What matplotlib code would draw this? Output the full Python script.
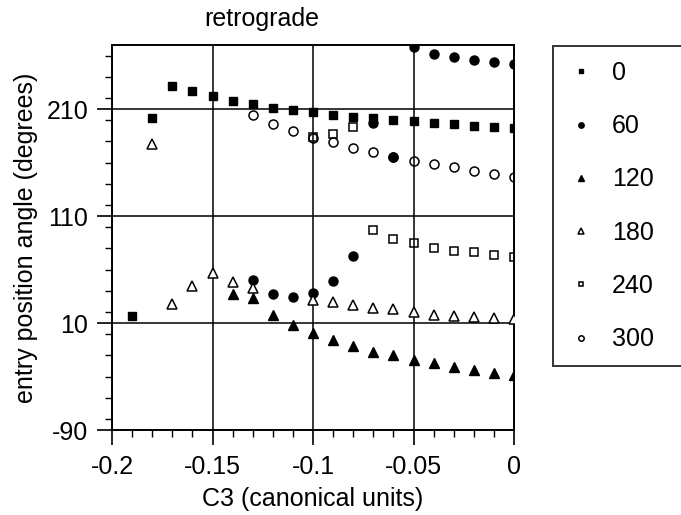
import numpy as np
import matplotlib.pyplot as plt
from matplotlib.ticker import MultipleLocator

plt.rcParams['font.family'] = ['Liberation Sans', 'DejaVu Sans']
plt.rcParams['axes.unicode_minus'] = False

# C3 values (canonical units) and entry position angles (deg) per launch angle
x_0 = [-0.19, -0.18, -0.17, -0.16, -0.15, -0.14, -0.13, -0.12, -0.11, -0.10,
       -0.09, -0.08, -0.07, -0.06, -0.05, -0.04, -0.03, -0.02, -0.01, 0.0]
y_0 = [17, 202, 232, 227, 222, 218, 214.5, 211.5, 209, 207,
       204.5, 203, 201.5, 200, 198.5, 197, 196, 194, 193, 192]

x_60 = [-0.13, -0.12, -0.11, -0.10, -0.09, -0.08, -0.07, -0.06,
        -0.05, -0.04, -0.03, -0.02, -0.01, 0.0]
y_60 = [50, 37, 34.5, 38.5, 49, 73, 197, 165.5,
        268.5, 262, 258.5, 256, 254, 252]

x_120 = [-0.14, -0.13, -0.12, -0.11, -0.10, -0.09, -0.08, -0.07,
         -0.06, -0.05, -0.04, -0.03, -0.02, -0.01, 0.0]
y_120 = [37, 33, 18, 8, 0.5, -6, -11, -17,
         -20, -24.5, -27.5, -31, -34, -36.5, -38.5]

x_180 = [-0.18, -0.17, -0.16, -0.15, -0.14, -0.13, -0.10, -0.09,
         -0.08, -0.07, -0.06, -0.05, -0.04, -0.03, -0.02, -0.01, 0.0]
y_180 = [177, 28, 45, 56.5, 48.5, 42.5, 31.5, 30,
         27, 24.5, 23, 20.5, 17.5, 16.5, 16, 15, 13.5]

x_240 = [-0.10, -0.09, -0.08, -0.07, -0.06, -0.05, -0.04, -0.03,
         -0.02, -0.01, 0.0]
y_240 = [184, 187, 193, 97, 88.5, 84.5, 80, 77.5,
         76, 74, 71.5]

x_300 = [-0.13, -0.12, -0.11, -0.10, -0.09, -0.08, -0.07, -0.06,
         -0.05, -0.04, -0.03, -0.02, -0.01, 0.0]
y_300 = [204.5, 196.5, 190, 183, 179, 174, 169.5, 165.5,
         162, 158.5, 155.5, 152, 149.5, 147]

fs = 18

fig = plt.figure(figsize=(6.81, 5.15), dpi=100)
ax = fig.add_axes([112/681, 1 - 430/515, 402/681, 385/515])

ax.plot(x_0, y_0, 's', color='k', ms=6, label='0', zorder=3)
ax.plot(x_60, y_60, 'o', color='k', ms=6.5, label='60', zorder=3)
ax.plot(x_120, y_120, '^', color='k', ms=6.5, label='120', zorder=3)
ax.plot(x_180, y_180, '^', mfc='white', mec='k', mew=1.1, ms=6.5, label='180', zorder=3)
ax.plot(x_240, y_240, 's', mfc='none', mec='k', mew=1.1, ms=6, label='240', zorder=3)
ax.plot(x_300, y_300, 'o', mfc='none', mec='k', mew=1.1, ms=6.5, label='300', zorder=3)

ax.set_xlim(-0.2, 0)
ax.set_ylim(-90, 270)
ax.set_xticks([-0.2, -0.15, -0.1, -0.05, 0])
ax.set_xticklabels(['-0.2', '-0.15', '-0.1', '-0.05', '0'])
ax.set_yticks([-90, 10, 110, 210])
ax.xaxis.set_minor_locator(MultipleLocator(0.01))
ax.yaxis.set_minor_locator(MultipleLocator(20))
ax.tick_params(which='major', direction='out', length=11, width=1.2, labelsize=fs)
ax.tick_params(axis='y', which='major', pad=6)
ax.tick_params(axis='x', which='major', pad=7)
ax.tick_params(which='minor', direction='out', length=5, width=1)
ax.grid(True, which='major', color='k', lw=1.1)
ax.set_axisbelow(True)
for s in ax.spines.values():
    s.set_linewidth(1.4)

ax.set_xlabel('C3 (canonical units)', fontsize=fs, labelpad=6)
ax.set_ylabel('entry position angle (degrees)', fontsize=fs, labelpad=6)
fig.text(262/681, 1 - 19/515, 'retrograde', fontsize=fs, ha='center', va='center')

leg = fig.legend(loc='upper left', bbox_to_anchor=(553/681, 0, 140/681, 1 - 46/515),
                 mode='expand', fontsize=fs, markerscale=0.6, frameon=True,
                 fancybox=False, edgecolor='k', labelspacing=1.17, borderpad=0.6,
                 handletextpad=0.75, handlelength=1.0, borderaxespad=0)
leg.get_frame().set_linewidth(1.4)

plt.savefig('out.png', dpi=100)
